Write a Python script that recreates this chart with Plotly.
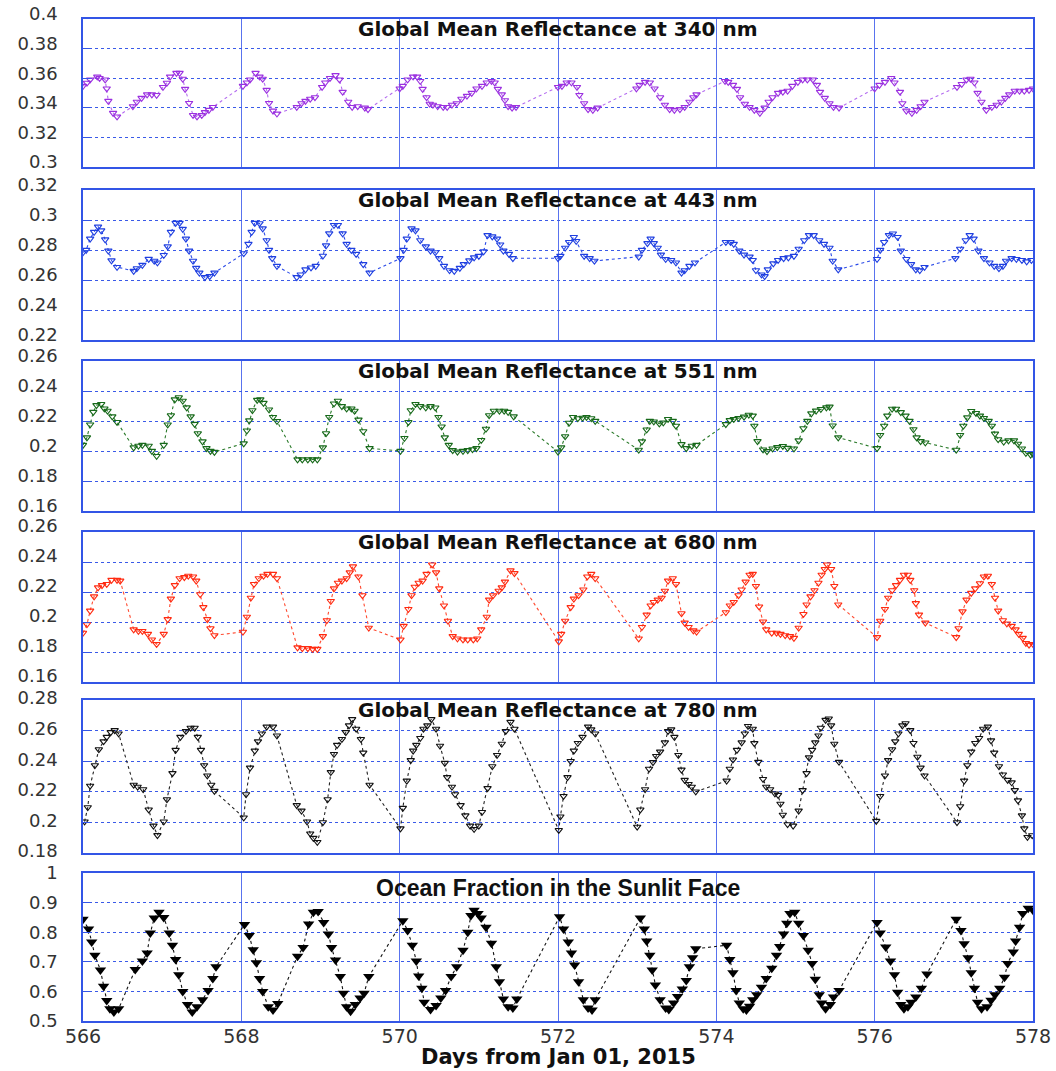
import plotly.graph_objects as go

# ---------------- data ----------------
days_340 = [566.00,566.05,566.09,566.18,566.21,566.28,566.30,566.32,566.38,566.43,
            566.63,566.68,566.74,566.81,566.87,566.93,567.01,567.06,567.10,567.18,567.22,567.26,567.29,567.34,567.39,567.44,567.50,567.54,567.59,567.64,
            568.02,568.07,568.11,568.18,568.23,568.27,568.32,568.35,568.40,568.45,
            568.70,568.76,568.81,568.87,568.93,569.02,569.06,569.12,569.19,569.24,569.28,569.35,569.40,569.47,569.56,569.60,
            570.00,570.04,570.10,570.17,570.22,570.26,570.29,570.34,570.38,570.42,570.48,570.55,570.60,570.66,570.72,570.78,570.85,570.91,570.97,571.04,571.10,571.16,571.20,571.24,571.29,571.33,571.37,571.42,571.47,
            572.00,572.05,572.11,572.17,572.24,572.27,572.33,572.38,572.44,572.50,
            572.99,573.03,573.10,573.16,573.22,573.29,573.35,573.41,573.47,573.54,573.60,573.66,573.71,573.75,
            574.11,574.15,574.21,574.26,574.30,574.36,574.42,574.48,574.55,574.61,574.66,574.71,574.78,574.84,574.90,574.96,575.03,575.09,575.15,575.22,575.27,575.31,575.37,575.43,575.48,575.55,
            576.00,576.06,576.13,576.21,576.25,576.32,576.35,576.40,576.47,576.53,576.58,576.63,
            577.04,577.10,577.16,577.21,577.26,577.30,577.35,577.41,577.48,577.54,577.60,577.65,577.70,577.77,577.83,577.89,577.95,578.00]
refl_340 = [0.3547,0.3568,0.3590,0.3610,0.3600,0.3590,0.3530,0.3446,0.3365,0.3340,
            0.3410,0.3440,0.3466,0.3490,0.3490,0.3486,0.3540,0.3568,0.3610,0.3635,0.3635,0.3595,0.3527,0.3432,0.3350,0.3340,0.3350,0.3370,0.3385,0.3405,
            0.3547,0.3570,0.3590,0.3635,0.3610,0.3595,0.3520,0.3432,0.3380,0.3360,
            0.3405,0.3430,0.3446,0.3460,0.3470,0.3540,0.3570,0.3600,0.3620,0.3590,0.3507,0.3440,0.3405,0.3410,0.3400,0.3390,
            0.3530,0.3547,0.3590,0.3610,0.3610,0.3580,0.3527,0.3470,0.3426,0.3420,0.3410,0.3405,0.3405,0.3420,0.3430,0.3460,0.3480,0.3500,0.3530,0.3547,0.3570,0.3580,0.3570,0.3527,0.3490,0.3450,0.3410,0.3400,0.3405,
            0.3540,0.3547,0.3570,0.3570,0.3540,0.3486,0.3430,0.3390,0.3385,0.3400,
            0.3530,0.3554,0.3574,0.3570,0.3530,0.3470,0.3420,0.3390,0.3385,0.3390,0.3405,0.3440,0.3470,0.3490,
            0.3580,0.3574,0.3554,0.3527,0.3470,0.3426,0.3405,0.3385,0.3365,0.3400,0.3440,0.3470,0.3500,0.3507,0.3514,0.3547,0.3574,0.3590,0.3590,0.3590,0.3554,0.3507,0.3466,0.3430,0.3405,0.3400,
            0.3530,0.3554,0.3574,0.3600,0.3570,0.3507,0.3430,0.3380,0.3365,0.3385,0.3410,0.3440,
            0.3540,0.3560,0.3590,0.3595,0.3570,0.3500,0.3440,0.3385,0.3405,0.3420,0.3440,0.3466,0.3490,0.3514,0.3514,0.3514,0.3520,0.3530]

days_443 = [566.00,566.04,566.09,566.14,566.19,566.23,566.28,566.32,566.36,566.43,
            566.64,566.68,566.75,566.83,566.90,566.94,567.02,567.07,567.11,567.17,567.22,567.26,567.30,567.34,567.39,567.43,567.47,567.54,567.60,567.66,
            568.03,568.09,568.13,568.17,568.23,568.27,568.32,568.35,568.39,568.45,
            568.70,568.75,568.81,568.88,568.94,569.03,569.07,569.11,569.17,569.22,569.28,569.33,569.39,569.45,569.54,569.62,
            570.01,570.05,570.09,570.15,570.20,570.26,570.33,570.39,570.45,570.50,570.56,570.63,570.69,570.76,570.81,570.88,570.94,571.00,571.06,571.11,571.17,571.23,571.27,571.31,571.38,571.43,
            572.00,572.03,572.09,572.14,572.20,572.23,572.33,572.40,572.46,
            573.02,573.06,573.13,573.17,573.21,573.26,573.30,573.36,573.43,573.49,573.56,573.60,573.66,573.73,
            574.12,574.18,574.22,574.29,574.35,574.42,574.46,574.50,574.57,574.61,574.65,574.72,574.78,574.85,574.91,574.98,575.04,575.11,575.17,575.23,575.30,575.36,575.43,575.47,575.54,
            576.03,576.07,576.12,576.18,576.23,576.29,576.33,576.40,576.46,576.52,576.57,576.63,
            577.02,577.08,577.15,577.20,577.25,577.31,577.38,577.45,577.51,577.57,577.62,577.66,577.73,577.79,577.86,577.92,577.98]
refl_443 = [0.2784,0.2800,0.2875,0.2920,0.2955,0.2930,0.2870,0.2795,0.2730,0.2686,
            0.2660,0.2677,0.2700,0.2740,0.2727,0.2716,0.2766,0.2823,0.2920,0.2980,0.2980,0.2940,0.2875,0.2795,0.2727,0.2680,0.2648,0.2618,0.2625,0.2648,
            0.2777,0.2840,0.2920,0.2980,0.2977,0.2943,0.2864,0.2800,0.2745,0.2693,
            0.2618,0.2636,0.2670,0.2682,0.2693,0.2761,0.2830,0.2910,0.2966,0.2966,0.2910,0.2840,0.2800,0.2773,0.2705,0.2648,
            0.2745,0.2800,0.2875,0.2943,0.2930,0.2864,0.2823,0.2795,0.2784,0.2745,0.2693,0.2664,0.2660,0.2680,0.2705,0.2730,0.2750,0.2760,0.2790,0.2898,0.2890,0.2875,0.2836,0.2795,0.2773,0.2745,
            0.2745,0.2760,0.2814,0.2852,0.2886,0.2859,0.2760,0.2745,0.2727,
            0.2755,0.2800,0.2845,0.2875,0.2845,0.2814,0.2768,0.2739,0.2732,0.2716,0.2648,0.2664,0.2693,0.2716,
            0.2852,0.2852,0.2840,0.2795,0.2768,0.2755,0.2732,0.2664,0.2636,0.2625,0.2670,0.2710,0.2732,0.2745,0.2750,0.2760,0.2807,0.2864,0.2898,0.2898,0.2864,0.2840,0.2814,0.2727,0.2670,
            0.2739,0.2800,0.2852,0.2898,0.2909,0.2886,0.2795,0.2739,0.2705,0.2670,0.2664,0.2686,
            0.2745,0.2807,0.2864,0.2898,0.2875,0.2795,0.2745,0.2716,0.2693,0.2677,0.2693,0.2727,0.2745,0.2739,0.2732,0.2723,0.2732]

days_551 = [566.00,566.05,566.09,566.13,566.17,566.23,566.27,566.31,566.37,566.43,
            566.64,566.70,566.75,566.83,566.87,566.93,567.02,567.07,567.11,567.16,567.21,567.26,567.31,567.36,567.41,567.45,567.51,567.56,567.61,567.66,
            568.03,568.07,568.10,568.14,568.20,568.24,568.28,568.35,568.40,568.45,
            568.71,568.77,568.84,568.90,568.96,569.03,569.07,569.11,569.17,569.22,569.27,569.33,569.39,569.43,569.48,569.54,569.62,
            570.01,570.06,570.11,570.14,570.20,570.26,570.33,570.39,570.45,570.49,570.53,570.57,570.62,570.67,570.73,570.80,570.86,570.92,570.97,571.03,571.09,571.13,571.19,571.26,571.32,571.37,571.44,
            572.00,572.04,572.09,572.14,572.19,572.25,572.31,572.36,572.42,572.47,
            573.02,573.06,573.12,573.16,573.21,573.28,573.33,573.39,573.45,573.49,573.56,573.62,573.69,573.75,
            574.12,574.17,574.22,574.28,574.35,574.41,574.46,574.48,574.52,574.59,574.64,574.71,574.77,574.84,574.90,574.98,575.04,575.10,575.15,575.20,575.26,575.32,575.39,575.43,575.47,575.54,
            576.03,576.07,576.12,576.16,576.22,576.27,576.33,576.39,576.44,576.49,576.53,576.58,576.64,
            577.03,577.08,577.12,577.17,577.22,577.28,577.33,577.38,577.44,577.48,577.52,577.56,577.63,577.69,577.76,577.81,577.86,577.91,577.97,578.00]
refl_551 = [0.2040,0.2090,0.2176,0.2260,0.2305,0.2312,0.2282,0.2267,0.2230,0.2192,
            0.2023,0.2034,0.2040,0.2034,0.2000,0.1966,0.2040,0.2176,0.2237,0.2343,0.2357,0.2334,0.2290,0.2230,0.2180,0.2117,0.2063,0.2018,0.2000,0.1993,
            0.2050,0.2136,0.2203,0.2271,0.2340,0.2343,0.2320,0.2276,0.2226,0.2199,
            0.1943,0.1943,0.1943,0.1943,0.1943,0.2023,0.2117,0.2226,0.2316,0.2334,0.2298,0.2282,0.2282,0.2267,0.2208,0.2131,0.2018,
            0.2000,0.2086,0.2192,0.2271,0.2312,0.2298,0.2289,0.2298,0.2289,0.2226,0.2162,0.2090,0.2040,0.2005,0.1995,0.2000,0.2005,0.2011,0.2018,0.2072,0.2147,0.2237,0.2267,0.2267,0.2267,0.2260,0.2230,
            0.1995,0.2023,0.2097,0.2187,0.2226,0.2217,0.2221,0.2226,0.2217,0.2200,
            0.2007,0.2063,0.2142,0.2200,0.2196,0.2182,0.2189,0.2212,0.2200,0.2167,0.2045,0.2018,0.2034,0.2040,
            0.2178,0.2205,0.2212,0.2219,0.2228,0.2241,0.2235,0.2167,0.2065,0.2009,0.1998,0.2016,0.2025,0.2032,0.2020,0.2016,0.2070,0.2151,0.2200,0.2250,0.2268,0.2279,0.2290,0.2295,0.2169,0.2090,
            0.2018,0.2106,0.2167,0.2235,0.2281,0.2281,0.2258,0.2235,0.2200,0.2144,0.2090,0.2065,0.2056,
            0.2007,0.2106,0.2167,0.2223,0.2266,0.2252,0.2235,0.2219,0.2200,0.2167,0.2115,0.2077,0.2061,0.2070,0.2070,0.2047,0.2016,0.1986,0.1975,0.1980]

days_680 = [566.00,566.05,566.09,566.14,566.19,566.24,566.30,566.36,566.43,566.47,
            566.64,566.70,566.75,566.82,566.87,566.93,567.02,567.07,567.11,567.16,567.22,567.28,567.33,567.39,567.43,567.48,567.52,567.57,567.61,567.66,
            568.02,568.07,568.12,568.16,568.22,568.28,568.33,568.40,568.45,
            568.71,568.77,568.84,568.90,568.96,569.03,569.08,569.13,569.17,569.22,569.27,569.33,569.37,569.41,569.48,569.53,569.61,
            570.01,570.05,570.11,570.15,570.19,570.24,570.29,570.34,570.41,570.46,570.50,570.56,570.61,570.67,570.73,570.80,570.86,570.93,570.98,571.03,571.10,571.13,571.18,571.25,571.29,571.33,571.40,571.45,
            572.01,572.04,572.09,572.16,572.20,572.26,572.32,572.37,572.42,572.47,
            573.02,573.06,573.12,573.17,573.21,573.26,573.31,573.35,573.39,573.45,573.49,573.56,573.60,573.65,573.71,573.75,
            574.12,574.17,574.22,574.28,574.32,574.37,574.42,574.46,574.50,574.54,574.59,574.63,574.70,574.76,574.81,574.87,574.93,574.98,575.04,575.10,575.14,575.19,575.24,575.29,575.33,575.37,575.40,575.45,575.49,575.54,
            576.03,576.07,576.13,576.17,576.22,576.27,576.32,576.37,576.42,576.45,576.50,576.52,576.56,576.64,
            577.03,577.06,577.11,577.16,577.22,577.27,577.33,577.38,577.43,577.48,577.52,577.56,577.62,577.67,577.73,577.78,577.82,577.87,577.91,577.95,578.00]
refl_680 = [0.1927,0.1984,0.2075,0.2170,0.2230,0.2245,0.2252,0.2280,0.2280,0.2275,
            0.1950,0.1939,0.1939,0.1920,0.1882,0.1852,0.1920,0.2018,0.2155,0.2245,0.2291,0.2298,0.2307,0.2302,0.2275,0.2184,0.2098,0.2018,0.1957,0.1911,
            0.1934,0.2034,0.2161,0.2252,0.2291,0.2307,0.2320,0.2320,0.2291,
            0.1830,0.1825,0.1825,0.1820,0.1820,0.1905,0.2011,0.2139,0.2223,0.2261,0.2275,0.2291,0.2330,0.2370,0.2302,0.2177,0.1961,
            0.1882,0.1973,0.2086,0.2177,0.2234,0.2261,0.2275,0.2320,0.2382,0.2330,0.2223,0.2109,0.2007,0.1905,0.1889,0.1882,0.1882,0.1882,0.1889,0.1950,0.2034,0.2148,0.2177,0.2207,0.2230,0.2268,0.2343,0.2325,
            0.1870,0.1920,0.2007,0.2098,0.2155,0.2177,0.2216,0.2302,0.2320,0.2291,
            0.1889,0.1966,0.2048,0.2109,0.2132,0.2148,0.2161,0.2207,0.2275,0.2291,0.2252,0.2057,0.1995,0.1966,0.1943,0.1934,
            0.2064,0.2109,0.2132,0.2177,0.2216,0.2268,0.2314,0.2320,0.2239,0.2102,0.2002,0.1950,0.1927,0.1927,0.1920,0.1911,0.1905,0.1893,0.1961,0.2052,0.2116,0.2170,0.2211,0.2261,0.2314,0.2352,0.2382,0.2352,0.2239,0.2116,
            0.1898,0.2007,0.2086,0.2161,0.2211,0.2245,0.2280,0.2314,0.2314,0.2280,0.2211,0.2125,0.2048,0.1995,
            0.1898,0.1957,0.2070,0.2148,0.2193,0.2223,0.2257,0.2302,0.2307,0.2252,0.2161,0.2075,0.2011,0.1989,0.1973,0.1950,0.1920,0.1893,0.1859,0.1848,0.1852]

days_780 = [566.02,566.06,566.09,566.15,566.20,566.26,566.30,566.35,566.40,566.45,
            566.64,566.69,566.76,566.83,566.89,566.94,567.02,567.06,567.13,567.17,567.23,567.30,567.36,567.41,567.45,567.49,567.53,567.57,567.62,567.66,
            568.03,568.06,568.11,568.17,568.21,568.26,568.32,568.40,568.45,
            568.70,568.76,568.83,568.87,568.91,568.96,569.03,569.09,569.13,569.17,569.21,569.27,569.32,569.36,569.40,569.45,569.51,569.54,569.62,
            570.01,570.04,570.09,570.14,570.17,570.21,570.26,570.30,570.35,570.40,570.46,570.51,570.57,570.60,570.66,570.70,570.77,570.83,570.89,570.94,571.00,571.04,571.11,571.17,571.23,571.29,571.34,571.40,571.45,
            572.01,572.03,572.07,572.12,572.16,572.20,572.25,572.31,572.38,572.42,572.47,
            573.00,573.04,573.10,573.15,573.20,573.24,573.29,573.35,573.39,573.43,573.47,573.52,573.56,573.60,573.65,573.69,573.74,
            574.13,574.17,574.21,574.26,574.32,574.36,574.40,574.46,574.48,574.53,574.59,574.63,574.68,574.74,574.78,574.81,574.84,574.90,574.97,575.04,575.09,575.14,575.17,575.21,575.25,575.29,575.32,575.38,575.42,575.45,575.49,575.55,
            576.02,576.07,576.13,576.17,576.22,576.26,576.30,576.35,576.39,576.45,576.49,576.54,576.58,576.63,
            577.04,577.08,577.13,577.17,577.22,577.27,577.32,577.37,577.43,577.47,577.51,577.57,577.62,577.68,577.73,577.77,577.81,577.86,577.89,577.93,577.99]
refl_780 = [0.2005,0.2098,0.2239,0.2373,0.2477,0.2529,0.2558,0.2589,0.2602,0.2580,
            0.2245,0.2232,0.2216,0.2083,0.1978,0.1916,0.2005,0.2150,0.2321,0.2473,0.2558,0.2596,0.2618,0.2618,0.2558,0.2473,0.2373,0.2306,0.2245,0.2205,
            0.2031,0.2183,0.2357,0.2468,0.2529,0.2580,0.2625,0.2625,0.2567,
            0.2112,0.2076,0.2005,0.1927,0.1898,0.1871,0.2000,0.2150,0.2328,0.2446,0.2506,0.2544,0.2589,0.2633,0.2674,0.2611,0.2544,0.2455,0.2245,
            0.1960,0.2094,0.2272,0.2406,0.2468,0.2506,0.2551,0.2611,0.2633,0.2674,0.2611,0.2500,0.2388,0.2295,0.2232,0.2183,0.2112,0.2045,0.1978,0.1956,0.1978,0.2067,0.2223,0.2366,0.2440,0.2513,0.2596,0.2656,0.2611,
            0.1949,0.2038,0.2172,0.2295,0.2400,0.2468,0.2518,0.2558,0.2625,0.2607,0.2580,
            0.1971,0.2083,0.2216,0.2350,0.2393,0.2433,0.2462,0.2522,0.2596,0.2607,0.2558,0.2440,0.2344,0.2277,0.2250,0.2232,0.2201,
            0.2272,0.2350,0.2410,0.2473,0.2522,0.2580,0.2629,0.2611,0.2517,0.2395,0.2283,0.2232,0.2216,0.2188,0.2179,0.2121,0.2049,0.1987,0.1978,0.2076,0.2210,0.2321,0.2424,0.2473,0.2522,0.2567,0.2618,0.2669,0.2678,0.2633,0.2513,0.2395,
            0.2009,0.2172,0.2306,0.2406,0.2477,0.2529,0.2580,0.2633,0.2647,0.2602,0.2518,0.2428,0.2357,0.2306,
            0.2000,0.2105,0.2272,0.2373,0.2462,0.2518,0.2551,0.2611,0.2625,0.2535,0.2455,0.2366,0.2312,0.2277,0.2261,0.2210,0.2143,0.2045,0.1960,0.1904,0.1915]

days_ocean = [566.00,566.07,566.11,566.15,566.22,566.26,566.30,566.34,566.39,566.45,
              566.66,566.75,566.81,566.85,566.90,566.96,567.02,567.09,567.13,567.17,567.21,567.26,567.32,567.38,567.44,567.51,567.58,567.64,567.68,
              568.04,568.10,568.15,568.19,568.23,568.27,568.34,568.40,568.46,
              568.71,568.78,568.85,568.91,568.97,569.04,569.10,569.14,569.19,569.25,569.29,569.33,569.38,569.44,569.50,569.55,569.61,
              570.04,570.10,570.16,570.21,570.24,570.28,570.31,570.39,570.46,570.52,570.58,570.65,570.72,570.80,570.86,570.90,570.94,570.99,571.03,571.09,571.16,571.22,571.26,571.31,571.37,571.43,571.48,
              572.02,572.07,572.13,572.17,572.21,572.26,572.32,572.38,572.43,572.47,
              573.04,573.09,573.12,573.16,573.19,573.23,573.29,573.36,573.40,573.46,573.51,573.57,573.62,573.66,573.70,573.74,
              574.13,574.17,574.21,574.25,574.29,574.34,574.38,574.42,574.46,574.51,574.57,574.63,574.70,574.76,574.80,574.85,574.89,574.93,574.99,575.04,575.10,575.16,575.21,575.25,575.30,575.33,575.38,575.44,575.48,575.55,
              576.03,576.07,576.14,576.20,576.25,576.29,576.33,576.37,576.42,576.46,576.52,576.59,576.66,
              577.03,577.09,577.13,577.18,577.22,577.26,577.30,577.35,577.42,577.47,577.52,577.58,577.64,577.68,577.75,577.78,577.83,577.87,577.94,578.00]
ocean_frac = [0.844,0.811,0.767,0.722,0.672,0.617,0.569,0.541,0.530,0.541,
              0.674,0.703,0.730,0.797,0.848,0.867,0.850,0.797,0.756,0.708,0.656,0.600,0.556,0.530,0.548,0.572,0.603,0.644,0.683,
              0.826,0.789,0.741,0.697,0.644,0.600,0.548,0.537,0.559,
              0.719,0.748,0.828,0.867,0.870,0.833,0.794,0.748,0.706,0.650,0.594,0.548,0.533,0.556,0.578,0.594,0.650,
              0.839,0.806,0.756,0.703,0.652,0.611,0.563,0.539,0.552,0.578,0.603,0.650,0.683,0.739,0.800,0.856,0.874,0.863,0.848,0.817,0.763,0.683,0.633,0.574,0.548,0.544,0.574,
              0.852,0.811,0.767,0.730,0.689,0.633,0.572,0.544,0.537,0.572,
              0.848,0.811,0.770,0.722,0.672,0.622,0.572,0.544,0.539,0.561,0.583,0.608,0.637,0.683,0.714,0.744,
              0.756,0.708,0.663,0.603,0.561,0.541,0.537,0.550,0.572,0.589,0.614,0.644,0.678,0.722,0.752,0.794,0.830,0.863,0.867,0.830,0.789,0.739,0.694,0.641,0.589,0.561,0.541,0.556,0.581,0.603,
              0.833,0.797,0.750,0.703,0.656,0.597,0.556,0.541,0.548,0.563,0.581,0.611,0.659,
              0.844,0.806,0.761,0.714,0.663,0.611,0.563,0.541,0.548,0.570,0.589,0.611,0.648,0.694,0.733,0.770,0.817,0.863,0.881,0.874]

panel_titles = ["Global Mean Reflectance at 340 nm", "Global Mean Reflectance at 443 nm",
                "Global Mean Reflectance at 551 nm", "Global Mean Reflectance at 680 nm",
                "Global Mean Reflectance at 780 nm", "Ocean Fraction in the Sunlit Face"]
y_ticks = [[0.3, 0.32, 0.34, 0.36, 0.38, 0.4],
           [0.22, 0.24, 0.26, 0.28, 0.3, 0.32],
           [0.16, 0.18, 0.2, 0.22, 0.24, 0.26],
           [0.16, 0.18, 0.2, 0.22, 0.24, 0.26],
           [0.18, 0.2, 0.22, 0.24, 0.26, 0.28],
           [0.5, 0.6, 0.7, 0.8, 0.9, 1.0]]
x_ticks = [566, 568, 570, 572, 574, 576, 578]
x_title = "Days from Jan 01, 2015"

# ---------------- styling / layout ----------------
W, H = 1056, 1071
ML, MR, MT, MB = 83, 23, 19, 50
panels_px = [(19, 167), (190, 340), (361, 511), (532, 682), (700, 853), (873, 1021)]
title_offset_px = [10, 10, 10, 10, 10, 15]
label_shift_px = [-5, -5, -5, -6, -2, 0]
plot_h = H - MT - MB
bottom_px = H - MB

def to_paper(py):
    return (bottom_px - py) / plot_h

series = [(days_340, refl_340, "#9b30e0", "#b46cf0"),
          (days_443, refl_443, "#1f3fe0", "#2a4ae8"),
          (days_551, refl_551, "#17691a", "#2a7a2a"),
          (days_680, refl_680, "#ff2a10", "#ff4a30"),
          (days_780, refl_780, "#111111", "#222222"),
          (days_ocean, ocean_frac, "#000000", "#111111")]

BLUE = "#3355e6"
fig = go.Figure()
layout = dict(width=W, height=H, margin=dict(l=ML, r=MR, t=MT, b=MB, autoexpand=False),
              paper_bgcolor="white", plot_bgcolor="white", showlegend=False)
annotations = []
for i, ((xs, ys, mc, lc), (top, bot)) in enumerate(zip(series, panels_px)):
    n = i + 1
    xa = "x" if n == 1 else f"x{n}"
    ya = "y" if n == 1 else f"y{n}"
    last = (n == 6)
    fig.add_trace(go.Scatter(
        x=xs, y=ys, xaxis=xa, yaxis=ya, mode="lines+markers",
        line=dict(color=lc, width=1.1, dash="dot"),
        marker=dict(symbol="triangle-down" if last else "triangle-down-open",
                    size=10 if last else 6.5, color=mc,
                    line=dict(color=mc, width=1.1 if not last else 0)),
    ))
    tv = y_ticks[i]
    layout[f"xaxis{n}" if n > 1 else "xaxis"] = dict(
        domain=[0, 1], anchor=ya, range=[566, 578], tickvals=x_ticks,
        ticktext=[str(v) for v in x_ticks], showticklabels=last, automargin=False,
        showgrid=True, gridcolor="rgba(60,90,235,0.85)", gridwidth=1,
        showline=True, linecolor=BLUE, linewidth=1.6, mirror=True,
        ticks="", zeroline=False, ticklabelstandoff=-3,
        tickfont=dict(family="DejaVu Sans", size=19, color="#333333"),
    )
    layout[f"yaxis{n}" if n > 1 else "yaxis"] = dict(
        domain=[to_paper(bot), to_paper(top)], anchor=xa, automargin=False,
        range=[tv[0], tv[-1]], tickvals=tv, ticktext=[f"{v:g}" for v in tv],
        showgrid=True, gridcolor="#3a5ae8", gridwidth=1, griddash="dot",
        showline=True, linecolor=BLUE, linewidth=1.6, mirror="ticks",
        ticks="inside", ticklen=7, tickcolor=BLUE, tickwidth=1.2,
        zeroline=False, ticklabelstandoff=20, ticklabelshift=label_shift_px[i],
        tickfont=dict(family="DejaVu Sans", size=18, color="#333333"),
    )
    annotations.append(dict(
        text=panel_titles[i], xref="paper", yref="paper", x=0.5,
        y=to_paper(top + title_offset_px[i]),
        xanchor="center", yanchor="middle", showarrow=False,
        font=dict(family="DejaVu Sans" if not last else "Liberation Sans",
                  size=20 if not last else 23, color="#111111", weight="bold"),
    ))

annotations.append(dict(
    text=x_title, xref="paper", yref="paper", x=0.5, y=to_paper(1057),
    xanchor="center", yanchor="middle", showarrow=False,
    font=dict(family="DejaVu Sans", size=21, color="#111111", weight="bold"),
))
layout["annotations"] = annotations
fig.update_layout(**layout)
fig.write_html("out.html")
